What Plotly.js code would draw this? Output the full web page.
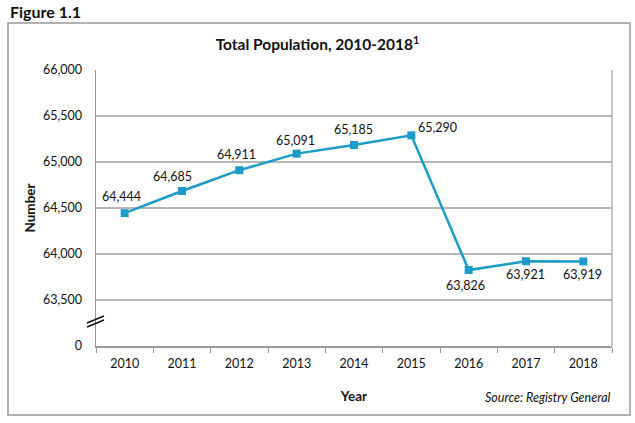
<!DOCTYPE html>
<html><head><meta charset="utf-8">
<script src="https://cdn.plot.ly/plotly-3.0.1.min.js"></script>
<style>html,body{margin:0;padding:0;background:#fff}#chart{width:635px;height:423px}</style>
</head><body><div id="chart"></div>
<script>
const years = ['2010','2011','2012','2013','2014','2015','2016','2017','2018'];
const population = [64444, 64685, 64911, 65091, 65185, 65290, 63826, 63921, 63919];
const yTickVals = [63000, 63500, 64000, 64500, 65000, 65500, 66000];
const yTickText = ['0', '63,500', '64,000', '64,500', '65,000', '65,500', '66,000'];
// label offsets in pixels (style, not data)
const labelDx = [-3, -10, -3, -1, -1, 26, -3, -1, -1];
const labelDy = [17, 14, 16, 13, 15, 8, -15, -13, -13];

const font = 'Lato, "Open Sans", sans-serif';
const L = 96, R = 23, T = 70, B = 77, W = 635, H = 423;
const pw = W - L - R, ph = H - T - B;
const px = x => (x - L) / pw;
const py = y => (H - B - y) / ph;

const trace = {
  x: years, y: population, type: 'scatter', mode: 'lines+markers',
  line: {color: '#1b9bc9', width: 2.5},
  marker: {symbol: 'square', size: 8, color: '#1b9bc9'},
  cliponaxis: false, hoverinfo: 'none'
};

const labels = years.map((yr, i) => ({
  x: i, y: population[i], xref: 'x', yref: 'y', showarrow: false,
  text: population[i].toLocaleString('en-US'),
  xshift: labelDx[i], yshift: labelDy[i],
  font: {family: font, size: 12.5, color: '#111'}
}));

const layout = {
  width: W, height: H,
  margin: {l: L, r: R, t: T, b: B},
  paper_bgcolor: '#fff', plot_bgcolor: '#fff',
  showlegend: false,
  font: {family: font, color: '#111'},
  xaxis: {
    type: 'category', range: [-0.5, years.length - 0.5], tickson: 'boundaries', ticks: 'outside', ticklen: 5, tickcolor: '#999',
    showline: true, linecolor: '#999', linewidth: 1.5, mirror: false, showgrid: false,
    tickfont: {family: font, size: 12.5, color: '#111'}, ticklabelstandoff: 5, tickangle: 0,
    title: {text: '<b>Year</b>', font: {family: font, size: 13.5, color: '#111'}, standoff: 22}
  },
  yaxis: {
    range: [63000, 66000], tickvals: yTickVals, ticktext: yTickText,
    showgrid: true, gridcolor: '#b5b5b5', gridwidth: 1.5,
    showline: true, linecolor: '#999', linewidth: 1.5, zeroline: false,
    ticks: '', tickfont: {family: font, size: 12.5, color: '#111'}, ticklabelstandoff: 10,
    title: {text: '<b>Number</b>', font: {family: font, size: 13.5, color: '#111'}, standoff: 4}
  },
  title: {text: '<b>Total Population, 2010-2018<sup>1</sup></b>', font: {family: font, size: 15.5, color: '#111'},
          x: 0.5, xanchor: 'center', y: (H - 45) / H, yanchor: 'middle'},
  shapes: [
    {type: 'rect', xref: 'paper', yref: 'paper', x0: px(8), x1: px(630), y0: py(415), y1: py(23),
     line: {color: '#999', width: 1.5}, layer: 'below'},
    {type: 'line', xref: 'paper', yref: 'paper', x0: 1, x1: 1, y0: 0, y1: 1, line: {color: '#b5b5b5', width: 1.5}},
    {type: 'line', xref: 'paper', yref: 'paper', x0: px(87), x1: px(104), y0: py(327), y1: py(320), line: {color: '#111', width: 1.5}},
    {type: 'line', xref: 'paper', yref: 'paper', x0: px(87), x1: px(104), y0: py(323), y1: py(316), line: {color: '#111', width: 1.5}}
  ],
  annotations: labels.concat([
    {text: '<b>Figure 1.1</b>', xref: 'paper', yref: 'paper', x: px(8), y: py(12), xanchor: 'left', yanchor: 'middle',
     showarrow: false, font: {family: font, size: 16, color: '#111'}},
    {text: '<i>Source: Registry General</i>', xref: 'paper', yref: 'paper', x: px(613), y: py(397), xanchor: 'right', yanchor: 'middle',
     showarrow: false, font: {family: font, size: 12.5, color: '#111'}}
  ])
};

Plotly.newPlot('chart', [trace], layout, {staticPlot: true});
</script></body></html>
